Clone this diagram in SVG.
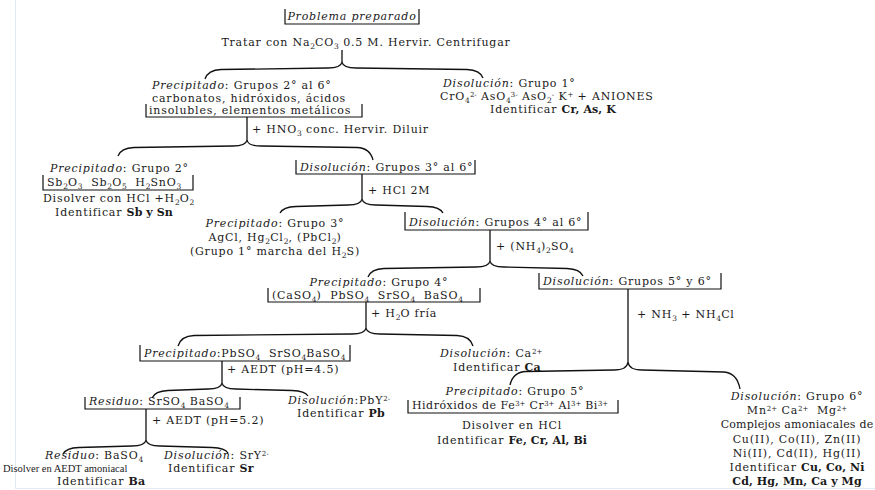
<svg xmlns="http://www.w3.org/2000/svg" width="875" height="490" viewBox="0 0 875 490">
<style>
text{font-family:"DejaVu Serif","Liberation Serif",serif;font-size:11px;letter-spacing:0.8px;fill:#1a1a1a;white-space:pre}
.i{font-style:italic}
.b{font-weight:bold;letter-spacing:0.1px}
.s{font-size:7.5px;baseline-shift:-2.5px;letter-spacing:0}
.u{font-size:7px;baseline-shift:3.5px;letter-spacing:0}
.m{text-anchor:middle}
.sm{font-family:"Liberation Serif",serif;font-size:10.5px;letter-spacing:0}
.br{fill:none;stroke:#111;stroke-width:1.2}
.c{fill:none;stroke:#111;stroke-width:1.3}
</style>
<rect width="875" height="490" fill="#fff"/>
<path d="M15.5,0 V488.5 H875" fill="none" stroke="#e3e9f0" stroke-width="1"/>
<g id="connectors">
<path class="c" d="M342,50 V62 M342,62 Q341,68 328,68 L221,69.5 Q208,70 205,79 M342,62 Q343,68 356,68 L467,69.5 Q480,70 483,78"/>
<path class="c" d="M247,117 V140 M247,140 Q246,146 233,146 L134,147.5 Q121,148 118,156 M247,140 Q248,146 261,146 L357,147.5 Q370,148 373,160"/>
<path class="c" d="M362,174 V199 M362,199 Q361,205 348,205 L296,206.5 Q283,207 280,213 M362,199 Q363,205 376,205 L427,206.5 Q440,207 443,213"/>
<path class="c" d="M490,230 V261 M490,261 Q489,267 476,267 L384,268.5 Q371,269 368,277 M490,261 Q491,267 504,267 L567,268.5 Q580,269 583,276"/>
<path class="c" d="M366,302 V328 M366,328 Q365,334 352,334 L194,335.5 Q181,336 178,346 M366,328 Q367,334 380,334 L457,335.5 Q470,336 473,346"/>
<path class="c" d="M628,289 V362 M628,362 Q627,370 614,370 L526,371.5 Q513,372 510,385 M628,362 Q629,370 642,370 L724,372 Q737,373 740,389"/>
<path class="c" d="M222,361 V383 M222,383 Q221,389 208,389 L168,390.5 Q155,391 152,398 M222,383 Q223,389 236,389 L292,390.5 Q305,391 308,396"/>
<path class="c" d="M146,409 V440 M146,440 Q145,446 132,446 L79,447.5 Q66,448 63,454 M146,440 Q147,446 160,446 L212,447.5 Q225,448 228,453"/>
<text x="252" y="133">+ HNO<tspan class="s">3</tspan> conc. Hervir. Diluir</text>
<text x="368" y="194">+ HCl 2M</text>
<text x="496" y="250">+ (NH<tspan class="s">4</tspan>)<tspan class="s">2</tspan>SO<tspan class="s">4</tspan></text>
<text x="371" y="317">+ H<tspan class="s">2</tspan>O fría</text>
<text x="637" y="318">+ NH<tspan class="s">3</tspan> + NH<tspan class="s">4</tspan>Cl</text>
<text x="227" y="373">+ AEDT (pH=4.5)</text>
<text x="152" y="424">+ AEDT (pH=5.2)</text>
</g>
<g id="problema">
<path class="br" d="M285,9 V24 H419 V9"/>
<text class="i m" x="352" y="20">Problema preparado</text>
</g>
<g id="tratar">
<text class="m" x="366" y="46">Tratar con Na<tspan class="s">2</tspan>CO<tspan class="s">3</tspan> 0.5 M. Hervir. Centrifugar</text>
</g>
<g id="precipitado-2-6">
<text x="152" y="89"><tspan class="i">Precipitado</tspan>: Grupos 2° al 6°</text>
<text x="152" y="102">carbonatos, hidróxidos, ácidos</text>
<text x="149" y="114">insolubles, elementos metálicos</text>
<path class="br" d="M146,104 V117 H362 V104"/>
</g>
<g id="disolucion-1">
<text x="443" y="87"><tspan class="i">Disolución</tspan>: Grupo 1°</text>
<text x="440" y="100">CrO<tspan class="s">4</tspan><tspan class="u">2-</tspan> AsO<tspan class="s">4</tspan><tspan class="u">3-</tspan> AsO<tspan class="s">2</tspan><tspan class="u">-</tspan> K<tspan class="u">+</tspan> + ANIONES</text>
<text x="490" y="113">Identificar <tspan class="b">Cr, As, K</tspan></text>
</g>
<g id="precipitado-2">
<text x="50" y="172"><tspan class="i">Precipitado</tspan>: Grupo 2°</text>
<path class="br" d="M43,175 V190 H193 V175"/>
<text x="47" y="186">Sb<tspan class="s">2</tspan>O<tspan class="s">3</tspan>  Sb<tspan class="s">2</tspan>O<tspan class="s">5</tspan>  H<tspan class="s">2</tspan>SnO<tspan class="s">3</tspan></text>
<text x="43" y="202">Disolver con HCl +H<tspan class="s">2</tspan>O<tspan class="s">2</tspan></text>
<text x="55" y="216">Identificar <tspan class="b">Sb y Sn</tspan></text>
</g>
<g id="disolucion-3-6">
<path class="br" d="M296,160 V174 H475 V160"/>
<text x="300" y="171"><tspan class="i">Disolución</tspan>: Grupos 3° al 6°</text>
</g>
<g id="precipitado-3">
<text class="m" x="275" y="227"><tspan class="i">Precipitado</tspan>: Grupo 3°</text>
<text class="m" x="275" y="241">AgCl, Hg<tspan class="s">2</tspan>Cl<tspan class="s">2</tspan>, (PbCl<tspan class="s">2</tspan>)</text>
<text class="m" x="275" y="255">(Grupo 1° marcha del H<tspan class="s">2</tspan>S)</text>
</g>
<g id="disolucion-4-6">
<path class="br" d="M405,212 V230 H588 V212"/>
<text x="409" y="226"><tspan class="i">Disolución</tspan>: Grupos 4° al 6°</text>
</g>
<g id="precipitado-4">
<text class="m" x="379" y="286"><tspan class="i">Precipitado</tspan>: Grupo 4°</text>
<path class="br" d="M268,288 V302 H480 V288"/>
<text x="272" y="299">(CaSO<tspan class="s">4</tspan>)  PbSO<tspan class="s">4</tspan>  SrSO<tspan class="s">4</tspan>  BaSO<tspan class="s">4</tspan></text>
</g>
<g id="disolucion-5-6">
<path class="br" d="M539,273 V289 H721 V273"/>
<text x="543" y="285"><tspan class="i">Disolución</tspan>: Grupos 5° y 6°</text>
</g>
<g id="precipitado-pbso4">
<path class="br" d="M140,345 V361 H350 V345"/>
<text x="144" y="357"><tspan class="i">Precipitado</tspan>:PbSO<tspan class="s">4</tspan>  SrSO<tspan class="s">4</tspan>BaSO<tspan class="s">4</tspan></text>
</g>
<g id="disolucion-ca">
<text x="440" y="357"><tspan class="i">Disolución</tspan>: Ca<tspan class="u">2+</tspan></text>
<text x="453" y="371">Identificar <tspan class="b">Ca</tspan></text>
</g>
<g id="residuo-srso4">
<path class="br" d="M85,397 V409 H240 V397"/>
<text x="89" y="405"><tspan class="i">Residuo</tspan>: SrSO<tspan class="s">4</tspan> BaSO<tspan class="s">4</tspan></text>
</g>
<g id="disolucion-pb">
<text x="288" y="404"><tspan class="i">Disolución</tspan>:PbY<tspan class="u">2-</tspan></text>
<text x="297" y="417">Identificar <tspan class="b">Pb</tspan></text>
</g>
<g id="residuo-ba">
<text x="45" y="459"><tspan class="i">Residuo</tspan>: BaSO<tspan class="s">4</tspan></text>
<text class="sm" x="3" y="472">Disolver en AEDT amoniacal</text>
<text x="57" y="485">Identificar <tspan class="b">Ba</tspan></text>
</g>
<g id="disolucion-sr">
<text x="164" y="459"><tspan class="i">Disolución</tspan>: SrY<tspan class="u">2-</tspan></text>
<text x="168" y="472">Identificar <tspan class="b">Sr</tspan></text>
</g>
<g id="precipitado-5">
<text class="m" x="515" y="395"><tspan class="i">Precipitado</tspan>: Grupo 5°</text>
<path class="br" d="M408,400 V413 H618 V400"/>
<text x="412" y="409" style="letter-spacing:0.5px">Hidróxidos de Fe<tspan class="u">3+</tspan> Cr<tspan class="u">3+</tspan> Al<tspan class="u">3+</tspan> Bi<tspan class="u">3+</tspan></text>
<text class="m" x="512" y="429">Disolver en HCl</text>
<text class="m" x="512" y="444">Identificar <tspan class="b">Fe, Cr, Al, Bi</tspan></text>
</g>
<g id="disolucion-6">
<text class="m" x="797" y="400"><tspan class="i">Disolución</tspan>: Grupo 6°</text>
<text class="m" x="797" y="414">Mn<tspan class="u">2+</tspan> Ca<tspan class="u">2+</tspan>  Mg<tspan class="u">2+</tspan></text>
<text class="m" x="797" y="428" style="letter-spacing:0.2px">Complejos amoniacales de</text>
<text class="m" x="797" y="443">Cu(II), Co(II), Zn(II)</text>
<text class="m" x="797" y="457">Ni(II), Cd(II), Hg(II)</text>
<text class="m" x="797" y="471">Identificar <tspan class="b">Cu, Co, Ni</tspan></text>
<text class="m b" x="797" y="485">Cd, Hg, Mn, Ca y Mg</text>
</g>
</svg>
